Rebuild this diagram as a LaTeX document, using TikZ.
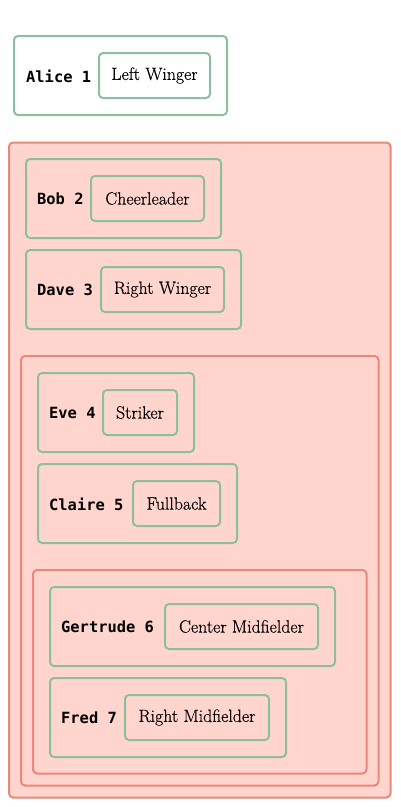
\documentclass[tikz,border=0pt]{standalone}
\usepackage{fontspec}
\newfontfamily\namefont{DejaVu Sans Mono}
\newfontfamily\rolefont{Latin Modern Roman}[FakeBold=0.35]
\definecolor{grp}{HTML}{FFD5CD}
\definecolor{grpline}{HTML}{E8887A}
\definecolor{boxline}{HTML}{8CBFA0}
\tikzset{
  groupbox/.style={draw=grpline, fill=grp, line width=2pt, rounded corners=4pt},
  personbox/.style={draw=boxline, line width=2pt, rounded corners=4pt},
  rolebox/.style={draw=boxline, line width=2pt, rounded corners=4pt, inner sep=0pt,
     font=\rolefont\fontsize{17.8}{20}\selectfont},
  namelabel/.style={anchor=west, inner sep=0pt, font=\namefont\bfseries\fontsize{15.4}{18}\selectfont},
}
% #1 id, #2 x1, #3 y1, #4 x2, #5 name, #6 name x, #7 inner x1, #8 inner x2, #9 role
\newcommand\personentry[9]{%
  \path[personbox] (#2,#3) rectangle (#4,#3+79);
  \node[namelabel] (#1n) at (#6,#3+40) {#5};
  \node[rolebox, minimum width=#8pt-#7pt, minimum height=45pt] (#1r) at ({(#7+#8)/2},#3+39.5) {\raisebox{-1.5pt}{#9}};
}
\begin{document}
\begin{tikzpicture}[x=1pt,y=-1pt]
\useasboundingbox (0,0) rectangle (400,807);
\path[groupbox] (9,142.5) rectangle (390.5,797.5);
\path[groupbox] (21,356) rectangle (378.5,785.5);
\path[groupbox] (33,570) rectangle (366.5,773.5);
\personentry{alice}{14}{36}{227}{Alice 1}{26}{99}{210}{Left Winger}
\personentry{bob}{26}{159}{221}{Bob 2}{37}{91}{204}{Cheerleader}
\personentry{dave}{26}{250}{241}{Dave 3}{37}{101}{224}{Right Winger}
\personentry{eve}{38}{373}{194}{Eve 4}{49}{103}{177}{Striker}
\personentry{claire}{38}{464}{237}{Claire 5}{49}{133}{220}{Fullback}
\personentry{gertrude}{50}{587}{335}{Gertrude 6}{61}{165}{318}{Center Midfielder}
\personentry{fred}{50}{678}{286}{Fred 7}{61}{125}{269}{Right Midfielder}
\end{tikzpicture}
\end{document}
